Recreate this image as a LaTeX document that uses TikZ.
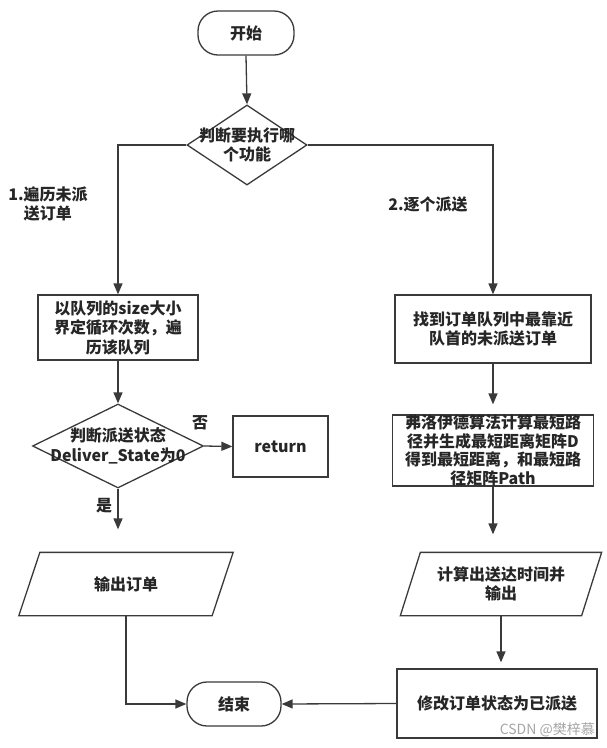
\documentclass[tikz,border=0pt]{standalone}
\usepackage{fontspec}
\setmainfont{Noto Sans CJK SC}
\usetikzlibrary{shapes.geometric,arrows.meta}
\definecolor{ln}{HTML}{3A3A3A}
\tikzset{
  base/.style={draw=ln, line width=1.3pt, inner sep=0pt, align=center,
    font=\fontsize{16}{19.5}\selectfont\bfseries, text=black!85},
  term/.style={base, rectangle, rounded corners=20pt},
  procbox/.style={base, rectangle},
  decide/.style={base, diamond},
  pshape/.style={base, draw=none, rectangle},
  lbl/.style={inner sep=0pt, align=center, font=\fontsize{16}{19.5}\selectfont\bfseries, text=black!85},
  conn/.style={draw=ln, line width=1.3pt, -{Triangle[length=11pt,width=9pt]}},
  plain/.style={draw=ln, line width=1.3pt},
}
\begin{document}
\begin{tikzpicture}[x=1pt,y=-1pt]
\useasboundingbox (0,0) rectangle (606,748);
\node[term, minimum width=96pt, minimum height=44pt] (start) at (246,33) {开始};
\node[decide, minimum width=120pt, minimum height=80pt,
  label={[lbl]center:判断要执行哪\\个功能}] (d1) at (247,145) {};
\node[lbl] (lab1) at (48,204) {1.遍历未派\\送订单};
\node[lbl] (lab2) at (428,204) {2.逐个派送};

\node[procbox, minimum width=160pt, minimum height=65pt] (b1) at (118,327.5) {以队列的size大小\\界定循环次数，遍\\历该队列};
\node[procbox, minimum width=196pt, minimum height=68pt] (r1) at (493,329) {找到订单队列中最靠近\\队首的未派送订单};
\node[procbox, minimum width=201pt, minimum height=71pt, font=\fontsize{16}{18.5}\selectfont\bfseries] (r2) at (493,450.5) {弗洛伊德算法计算最短路\\径并生成最短距离矩阵D\\得到最短距离，和最短路\\径矩阵Path};

\node[decide, minimum width=171pt, minimum height=84pt,
  label={[lbl]center:判断派送状态\\Deliver\_State为0}] (d2) at (118,446) {};
\node[procbox, minimum width=95pt, minimum height=61pt] (ret) at (280.5,446.5) {return};
\node[lbl] (no) at (200,423) {否};
\node[lbl] (yes) at (104,506) {是};

\node[pshape, minimum width=213pt, minimum height=62pt] (p1) at (126,584) {输出订单};
\draw[plain] ([xshift=21pt]p1.north west) -- (p1.north east) -- ([xshift=-21pt]p1.south east) -- (p1.south west) -- cycle;
\node[pshape, minimum width=200pt, minimum height=62pt] (p2) at (501,584) {计算出送达时间并\\输出};
\draw[plain] ([xshift=20pt]p2.north west) -- (p2.north east) -- ([xshift=-20pt]p2.south east) -- (p2.south west) -- cycle;

\node[procbox, minimum width=200pt, minimum height=69pt] (b3) at (497,703.5) {修改订单状态为已派送};
\node[term, minimum width=94pt, minimum height=44pt] (end) at (234,704) {结束};
\node[anchor=south east, inner sep=0pt, font=\fontsize{14}{16}\selectfont, text=black!35] (wm) at (595,737) {CSDN @樊梓慕};

\draw[conn] (start.south) -- (d1.north);
\draw[conn] (d1.west) -| (b1.north);
\draw[conn] (d1.east) -| (r1.north);
\draw[conn] (b1.south) -- (d2.north);
\draw[conn] (d2.east) -- (ret.west);
\draw[conn, shorten >=23pt] (d2.south) -- (d2.south |- p1.north);
\draw[conn, shorten >=10pt] (r1.south) -- (r2.north);
\draw[conn, shorten >=18pt] (r2.south) -- (r2.south |- p2.north);
\draw[conn, shorten >=6pt] (p2.south) -- (p2.south |- b3.north);
\draw[conn] (p1.south) |- (end.west);
\draw[conn] (b3.west) -- (end.east);
\end{tikzpicture}
\end{document}
